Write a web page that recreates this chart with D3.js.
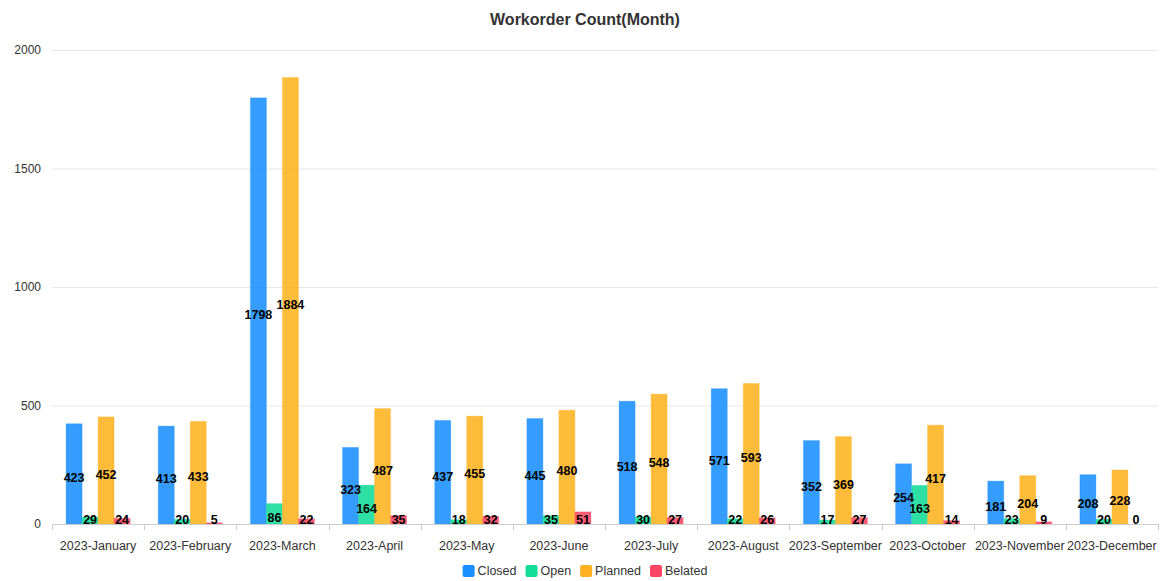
<!DOCTYPE html>
<html><head><meta charset="utf-8">
<script src="https://cdn.jsdelivr.net/npm/d3@7"></script>
<style>body{margin:0;background:#fff;font-family:"Liberation Sans",Arial,sans-serif;}</style>
</head><body>
<svg id="c" width="1171" height="581"></svg>
<script>
const categories = ["2023-January","2023-February","2023-March","2023-April","2023-May","2023-June","2023-July","2023-August","2023-September","2023-October","2023-November","2023-December"];
const seriesNames = ["Closed","Open","Planned","Belated"];
const closed  = [423,413,1798,323,437,445,518,571,352,254,181,208];
const open    = [29,20,86,164,18,35,30,22,17,163,23,20];
const planned = [452,433,1884,487,455,480,548,593,369,417,204,228];
const belated = [24,5,22,35,32,51,27,26,27,14,9,0];
const yTicks = [0,500,1000,1500,2000];
const colors = ["#1890ff","#12dc98","#ffb21f","#ff4563"];
const series = [closed, open, planned, belated];

const svg = d3.select("#c");
const W = 1171, H = 581;
const m = {l:52, r:13, t:50, b:57};
const x = d3.scaleBand().domain(categories).range([m.l, W-m.r]);
const y = d3.scaleLinear().domain([0,2000]).range([H-m.b, m.t]);
const barW = 16;
const xs = d3.scaleBand().domain(seriesNames).range([0, barW*4]);

svg.append("text").attr("x", 585).attr("y", 25).attr("text-anchor","middle")
  .attr("font-size",16).attr("font-weight","bold").attr("fill","#333").text("Workorder Count(Month)");

// grid
svg.append("g").selectAll("line").data(yTicks.filter(d=>d>0)).join("line")
  .attr("x1", m.l).attr("x2", W-m.r).attr("y1", d=>y(d)+0.5).attr("y2", d=>y(d)+0.5)
  .attr("stroke","#e6e6e6");
svg.append("g").selectAll("text").data(yTicks).join("text")
  .attr("x", m.l-11).attr("y", d=>y(d)).attr("dy","0.35em").attr("text-anchor","end")
  .attr("font-size",12).attr("fill","#333").text(d=>d);

// bars
const g = svg.append("g");
series.forEach((vals, si) => {
  const name = seriesNames[si];
  const off = x.bandwidth()/2 - barW*2 + xs(name);
  g.append("g").selectAll("rect").data(vals).join("rect")
    .attr("x", (d,i)=>x(categories[i]) + off)
    .attr("y", d=>y(d))
    .attr("width", barW)
    .attr("height", d=>y(0)-y(d))
    .attr("fill", colors[si]).attr("fill-opacity",0.88)
    .attr("stroke", colors[si]).attr("stroke-opacity",0.3).attr("stroke-width",1);
});
series.forEach((vals, si) => {
  const name = seriesNames[si];
  const off = x.bandwidth()/2 - barW*2 + xs(name) + barW/2;
  g.append("g").selectAll("text").data(vals).join("text")
    .attr("x", (d,i)=>x(categories[i]) + off)
    .attr("y", d=> Math.min((y(d)+y(0))/2 + 4, y(0)-4))
    .attr("dy","0.35em").attr("text-anchor","middle")
    .attr("font-size",12.5).attr("font-weight","bold").attr("fill","#000").text(d=>d);
});

// x axis
const ax = svg.append("g");
ax.append("line").attr("x1", m.l).attr("x2", W-m.r).attr("y1", y(0)+0.5).attr("y2", y(0)+0.5).attr("stroke","#ccc");
const bounds = categories.map(c=>x(c)).concat([W-m.r]);
ax.selectAll("line.t").data(bounds).join("line").attr("class","t")
  .attr("x1", d=>Math.round(d)+0.5).attr("x2", d=>Math.round(d)+0.5)
  .attr("y1", y(0)).attr("y2", y(0)+6).attr("stroke","#ccc");
ax.selectAll("text").data(categories).join("text")
  .attr("x", d=>x(d)+x.bandwidth()/2).attr("y", y(0)+26)
  .attr("text-anchor","middle").attr("font-size",12.5).attr("fill","#333").text(d=>d);

// legend
const legendItems = seriesNames.map((n,i)=>({n, c:colors[i]}));
const lg = svg.append("g");
let lx = 0;
legendItems.forEach(it => {
  const gi = lg.append("g").attr("transform", `translate(${lx},0)`);
  gi.append("rect").attr("x",0).attr("y",-6).attr("width",12).attr("height",12).attr("rx",2).attr("fill",it.c);
  const t = gi.append("text").attr("x",15).attr("y",0).attr("dy","0.35em").attr("font-size",12.5).attr("fill","#333").text(it.n);
  const w = t.node().getComputedTextLength();
  lx += 15 + w + 9;
});
const totalW = lx - 9;
lg.attr("transform", `translate(${585 - totalW/2},571)`);
</script>
</body></html>
